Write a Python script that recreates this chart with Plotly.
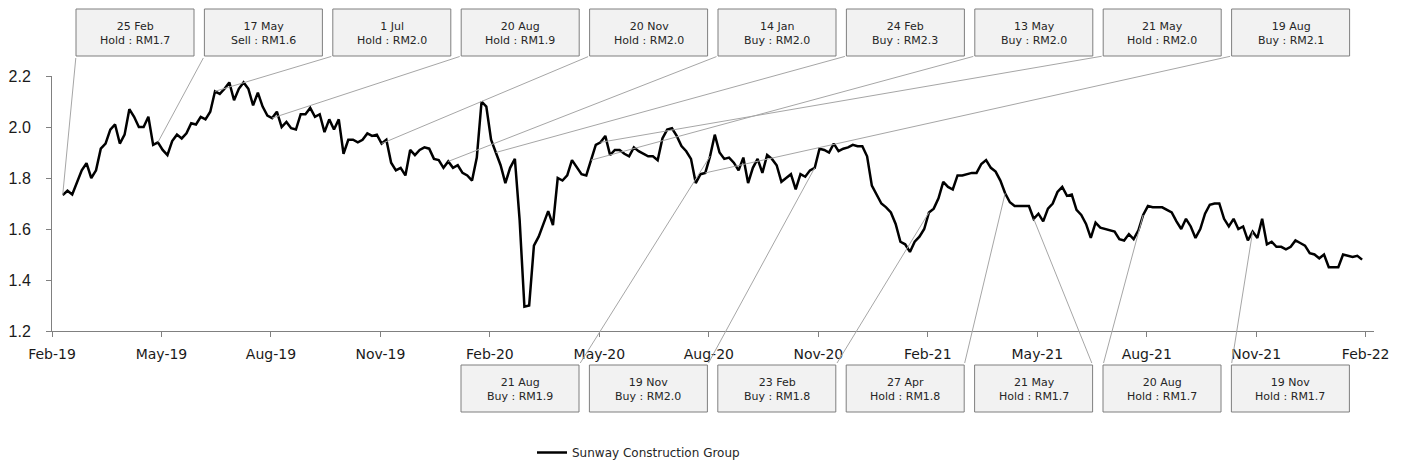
import pandas as pd
import plotly.graph_objects as go

# share price, sampled every 4 calendar days
start_date = "2019-02-24"
step_days = 4
price = [
    1.733, 1.75, 1.735, 1.78, 1.83, 1.858, 1.80, 1.83, 1.915, 1.935,
    1.99, 2.01, 1.935, 1.97, 2.07, 2.04, 2.0, 2.0, 2.04, 1.93,
    1.94, 1.91, 1.89, 1.945, 1.97, 1.955, 1.975, 2.015, 2.01, 2.04,
    2.03, 2.06, 2.14, 2.13, 2.15, 2.175, 2.105, 2.15, 2.175, 2.15,
    2.085, 2.135, 2.08, 2.045, 2.035, 2.06, 2.0, 2.02, 1.995, 1.99,
    2.05, 2.05, 2.075, 2.04, 2.05,
    1.98, 2.03, 1.99, 2.03, 1.895, 1.95, 1.95, 1.94, 1.95, 1.975,
    1.965, 1.97, 1.935, 1.95, 1.86, 1.83, 1.84, 1.81, 1.91, 1.89,
    1.91, 1.92, 1.915, 1.875, 1.87, 1.84, 1.865, 1.84, 1.85, 1.82,
    1.81, 1.79, 1.88, 2.1, 2.08, 1.95, 1.90, 1.85, 1.78, 1.84,
    1.875, 1.635, 1.295, 1.30, 1.535, 1.57, 1.62, 1.67, 1.615, 1.80,
    1.79, 1.81, 1.87, 1.84, 1.815,
    1.81, 1.87, 1.93, 1.94, 1.965, 1.89, 1.91, 1.91, 1.895, 1.885,
    1.92, 1.905, 1.895, 1.885, 1.885, 1.87, 1.955, 1.99, 1.995, 1.965,
    1.925, 1.905, 1.875, 1.78, 1.815, 1.82, 1.885, 1.97, 1.90, 1.875,
    1.88, 1.86, 1.83, 1.88, 1.78, 1.84, 1.875, 1.82, 1.89, 1.875,
    1.85, 1.785, 1.80, 1.815, 1.755, 1.815, 1.805, 1.83, 1.84, 1.915,
    1.91, 1.90, 1.935, 1.905, 1.915, 1.92,
    1.93, 1.925, 1.925, 1.885, 1.77, 1.735, 1.70, 1.685, 1.665, 1.62,
    1.55, 1.54, 1.51, 1.55, 1.57, 1.60, 1.665, 1.68, 1.72, 1.785,
    1.765, 1.755, 1.81, 1.81, 1.815, 1.82, 1.82, 1.855, 1.87, 1.84,
    1.825, 1.79, 1.74, 1.705, 1.69, 1.69, 1.69, 1.69, 1.64, 1.66,
    1.63, 1.68, 1.70, 1.745, 1.765, 1.73, 1.735, 1.675, 1.655, 1.62,
    1.565, 1.625, 1.605, 1.60, 1.595, 1.59,
    1.56, 1.555, 1.58, 1.56, 1.595, 1.655, 1.69, 1.685, 1.685, 1.685,
    1.675, 1.665, 1.63, 1.60, 1.64, 1.61, 1.565, 1.60, 1.66, 1.695,
    1.70, 1.70, 1.64, 1.61, 1.64, 1.60, 1.61, 1.555, 1.59, 1.565,
    1.64, 1.54, 1.55, 1.53, 1.53, 1.52, 1.53, 1.555, 1.545, 1.535,
    1.505, 1.50, 1.485, 1.50, 1.45, 1.45, 1.45, 1.50, 1.495, 1.49,
    1.495, 1.48,
]

tick_dates = ["2019-02-15", "2019-05-18", "2019-08-18", "2019-11-18",
              "2020-02-18", "2020-05-20", "2020-08-20", "2020-11-20",
              "2021-02-20", "2021-05-23", "2021-08-23", "2021-11-23",
              "2022-02-23"]
tick_labels = ["Feb-19", "May-19", "Aug-19", "Nov-19", "Feb-20", "May-20",
               "Aug-20", "Nov-20", "Feb-21", "May-21", "Aug-21", "Nov-21",
               "Feb-22"]

# recommendations (top row of boxes, then bottom row)
top_dates = ["2019-02-25", "2019-05-17", "2019-07-01", "2019-08-20", "2019-11-20",
             "2020-01-14", "2020-02-24", "2020-05-13", "2020-05-21", "2020-08-19"]
top_calls = ["Hold", "Sell", "Hold", "Hold", "Hold", "Buy", "Buy", "Buy", "Hold", "Buy"]
top_targets = [1.7, 1.6, 2.0, 1.9, 2.0, 2.0, 2.3, 2.0, 2.0, 2.1]

bottom_dates = ["2020-08-21", "2020-11-19", "2021-02-23", "2021-04-27",
                "2021-05-21", "2021-08-20", "2021-11-19"]
bottom_calls = ["Buy", "Buy", "Buy", "Hold", "Hold", "Hold", "Hold"]
bottom_targets = [1.9, 2.0, 1.8, 1.8, 1.7, 1.7, 1.7]

dates = pd.date_range(start_date, periods=len(price), freq=f"{step_days}D")

# plot area in pixels (1408 x 470 page)
W, H = 1408, 470
L, R, T, B = 52, 1374, 76, 331
x_start, x_end = pd.Timestamp("2019-02-15"), pd.Timestamp("2022-03-02")
y_lo, y_hi = 1.2, 2.2


def px_paper_x(px):
    return (px - L) / (R - L)


def px_paper_y(py):
    return (B - py) / (B - T)


def px_to_date(px):
    return str(x_start + (px - L) / (R - L) * (x_end - x_start))


def py_to_val(py):
    return y_lo + (B - py) / (B - T) * (y_hi - y_lo)


def price_on(d):
    i = abs(dates - pd.Timestamp(d)).argmin()
    return dates[i], price[i]


fig = go.Figure()
fig.add_trace(go.Scatter(x=dates, y=price, mode="lines", name="Sunway Construction Group",
                         line=dict(color="black", width=2.5)))

box_w, box_h, gap = 118, 47, 128.4
shapes = []
annotations = []


def add_box(left, top, d, call, tp, corner):
    shapes.append(dict(type="rect", xref="paper", yref="paper", layer="above",
                       x0=px_paper_x(left), x1=px_paper_x(left + box_w),
                       y0=px_paper_y(top + box_h), y1=px_paper_y(top),
                       fillcolor="#f2f2f2", line=dict(color="#7f7f7f", width=1)))
    label = pd.Timestamp(d).strftime("%-d %b") + "<br>" + f"{call} : RM{tp:.1f}"
    annotations.append(dict(xref="paper", yref="paper", x=px_paper_x(left + box_w / 2),
                            y=px_paper_y(top + box_h / 2 + 1), text=label, showarrow=False,
                            xanchor="center", yanchor="middle",
                            font=dict(family="DejaVu Sans", size=11, color="#262626")))
    px_d, val = price_on(d)
    annotations.append(dict(xref="x", yref="y", x=px_d, y=val, text=" ",
                            font=dict(size=1), showarrow=True, arrowhead=0,
                            arrowwidth=1, arrowcolor="#a6a6a6", standoff=0,
                            startstandoff=0, axref="x", ayref="y",
                            ax=px_to_date(corner[0]), ay=py_to_val(corner[1])))


for i, (d, c, tp) in enumerate(zip(top_dates, top_calls, top_targets)):
    left = 76 + gap * i
    add_box(left, 9, d, c, tp, (left, 9 + box_h))

for i, (d, c, tp) in enumerate(zip(bottom_dates, bottom_calls, bottom_targets)):
    left = 461 + gap * i
    cx = left + box_w if i < 5 else left
    add_box(left, 365, d, c, tp, (cx, 365))

fig.update_layout(
    width=W, height=H,
    margin=dict(l=L, r=W - R, t=T, b=H - B, autoexpand=False),
    plot_bgcolor="white", paper_bgcolor="white",
    showlegend=True,
    legend=dict(orientation="h", x=px_paper_x(532), xanchor="left",
                y=px_paper_y(438), yanchor="top",
                font=dict(family="DejaVu Sans", size=12, color="#262626")),
    shapes=shapes, annotations=annotations,
)
fig.update_xaxes(type="date", range=[x_start, x_end], tickvals=tick_dates, ticktext=tick_labels,
                 showgrid=False, zeroline=False, showline=True, linecolor="#808080", linewidth=1,
                 ticks="outside", ticklen=5, tickcolor="#808080", ticklabelstandoff=5,
                 tickfont=dict(family="DejaVu Sans", size=14, color="#1a1a1a"))
fig.update_yaxes(range=[y_lo, y_hi], dtick=0.2, tickformat=".1f",
                 showgrid=False, zeroline=False, showline=True, linecolor="#808080", linewidth=1,
                 ticks="outside", ticklen=5, tickcolor="#808080", ticklabelstandoff=12,
                 tickfont=dict(family="Liberation Sans", size=16, color="#1a1a1a"))

# drop the default page margin so the figure sits at the top-left corner
fig.write_html("out.html", config={"displayModeBar": False},
               post_script="document.body.style.margin='0';")
